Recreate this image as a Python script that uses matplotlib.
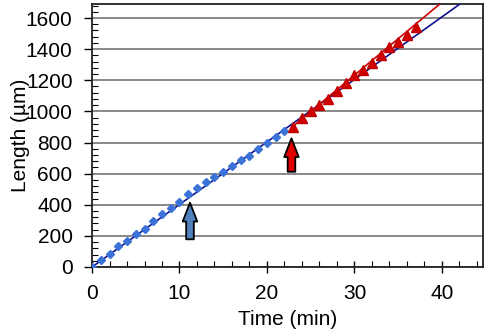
import matplotlib
matplotlib.use("Agg")
import matplotlib.pyplot as plt
from matplotlib.ticker import MultipleLocator

plt.rcParams['font.family'] = ['Liberation Sans', 'DejaVu Sans']

# Data
blue_t = [0, 1, 2, 3, 4, 5, 6, 7, 8, 9, 10, 11, 12, 13, 14, 15, 16, 17, 18, 19, 20, 21, 22]
blue_v = [0, 45, 82, 135, 169, 210, 246, 296, 339, 377, 418, 466, 510, 549, 581, 613, 649, 688, 714, 757, 800, 838, 877]
red_t = [23, 24, 25, 26, 27, 28, 29, 30, 31, 32, 33, 34, 35, 36, 37]
red_v = [898, 960, 1003, 1041, 1082, 1131, 1180, 1234, 1266, 1313, 1362, 1412, 1449, 1491, 1541]
blue_fit_t = [0, 45]
blue_fit_v = [0, 1808]
red_fit_t = [23, 42]
red_fit_v = [905, 1795]
arrow_t = [11.2, 22.8]
arrow_base = [178, 612]
arrow_tip = [413, 827]
arrow_colors = ['#4f81bd', '#e00000']

fig = plt.figure(figsize=(4.9, 3.34), dpi=100)
ax = fig.add_axes([0.1878, 0.2006, 0.798, 0.7874])

ax.set_xlim(0, 44.7)
ax.set_ylim(0, 1690)

ax.yaxis.set_major_locator(MultipleLocator(200))
ax.yaxis.set_minor_locator(MultipleLocator(40))
ax.xaxis.set_major_locator(MultipleLocator(10))
ax.xaxis.set_minor_locator(MultipleLocator(2))
ax.grid(axis='y', which='major', color='#7f7f7f', linewidth=1.3, zorder=0)
ax.set_axisbelow(True)

ax.tick_params(axis='y', which='major', direction='out', length=6, width=1.0, labelsize=15, pad=8)
ax.tick_params(axis='y', which='minor', direction='in', length=4, width=0.8)
ax.tick_params(axis='x', which='major', direction='inout', length=9, width=1.0, labelsize=15, pad=8)
ax.tick_params(axis='x', which='minor', direction='in', length=4, width=0.8)
for s in ax.spines.values():
    s.set_linewidth(1.3)
    s.set_color('#222222')

ax.plot(blue_fit_t, blue_fit_v, color='#101090', linewidth=1.2, zorder=3)
ax.plot(red_fit_t, red_fit_v, color='#d00000', linewidth=1.2, zorder=3)
ax.plot(blue_t, blue_v, linestyle='none', marker='D', markersize=4.5,
        color='#3a72d8', markeredgecolor='#3a72d8', zorder=4)
ax.plot(red_t, red_v, linestyle='none', marker='^', markersize=6.5,
        color='#d00000', markeredgecolor='#c00000', zorder=4)

for t, b, tip, c in zip(arrow_t, arrow_base, arrow_tip, arrow_colors):
    ax.annotate('', xy=(t, tip), xytext=(t, b),
                arrowprops=dict(arrowstyle='simple,head_length=1.35,head_width=1.05,tail_width=0.55',
                                mutation_scale=10,
                                facecolor=c, edgecolor='black', linewidth=1.3,
                                shrinkA=0, shrinkB=0), zorder=5)

ax.set_xlabel('Time (min)', fontsize=15, labelpad=5)
ax.set_ylabel('Length (\u00b5m)', fontsize=15, labelpad=-3)

fig.savefig('out.png', dpi=100)
